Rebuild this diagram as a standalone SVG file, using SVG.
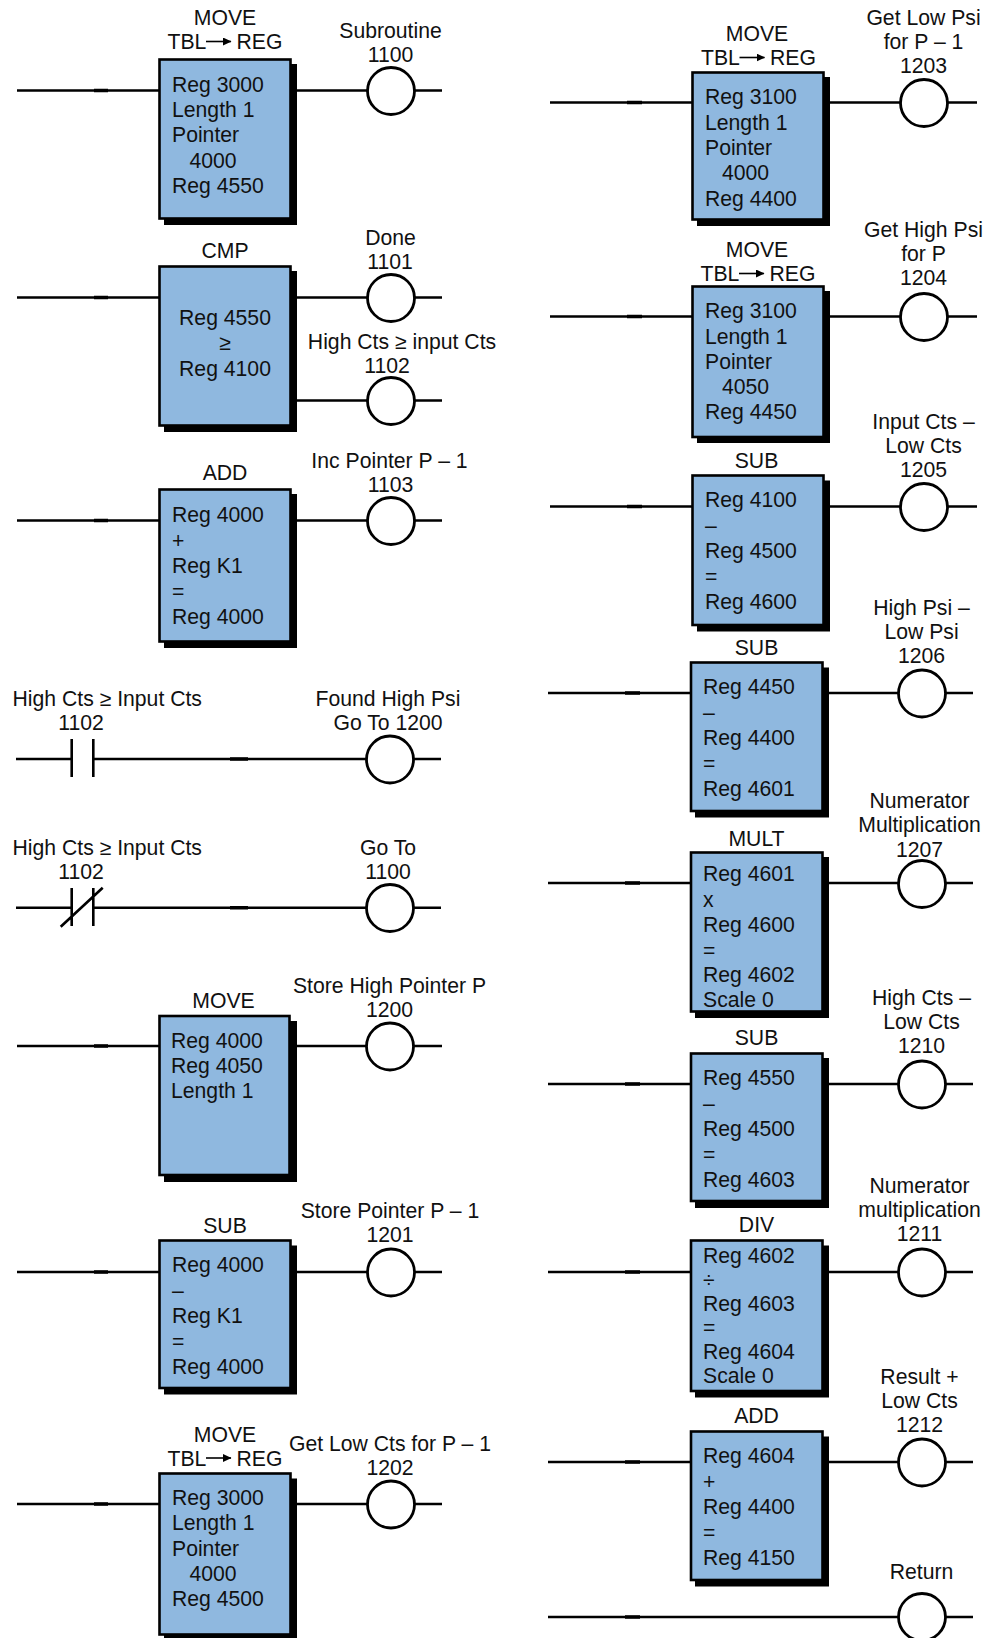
<svg xmlns="http://www.w3.org/2000/svg" width="995" height="1638" viewBox="0 0 995 1638">
<style>
text{font-family:"Liberation Sans",Arial,sans-serif;font-size:21.2px;fill:#111}
.m{text-anchor:middle}
.s{fill:#000}
.b{fill:#8fb8df;stroke:#000;stroke-width:2.6}
.c{fill:#fff;stroke:#000;stroke-width:2.8}
.w{fill:none;stroke:#000;stroke-width:2.6}
.k{fill:none;stroke:#000;stroke-width:3.4}
.a{fill:none;stroke:#000;stroke-width:1.6;marker-end:url(#ah)}
</style>
<defs><marker id="ah" markerWidth="9" markerHeight="8" refX="8" refY="4" orient="auto" markerUnits="userSpaceOnUse"><path d="M0 0L8.500 4L0 8Z" fill="#000"/></marker></defs>
<rect width="995" height="1638" fill="#fff"/>
<g id="connectors">
<path class="w" d="M17 90.500H160M296 90.500H367M415 90.500H442"/>
<path class="w" d="M17 297.500H160M296 297.500H367M415 297.500H442"/>
<path class="w" d="M296 400.500H367M415 400.500H442"/>
<path class="w" d="M17 520.500H160M296 520.500H367M415 520.500H442"/>
<path class="w" d="M16 759H72M93 759H366M414 759H441M71.700 739V777M93.300 739V777"/>
<path class="w" d="M16 907.700H72M93 907.700H366M414 907.700H441M71.700 888V926M93.300 888V926M60.700 926.700L102.700 887.700"/>
<path class="w" d="M17 1046H160M296 1046H366M414 1046H442"/>
<path class="w" d="M17 1272H160M296 1272H367M415 1272H442"/>
<path class="w" d="M17 1504H160M296 1504H367M415 1504H442"/>
<path class="w" d="M550 102.500H693M829 102.500H900M948 102.500H977"/>
<path class="w" d="M550 316.500H693M829 316.500H900M948 316.500H977"/>
<path class="w" d="M550 506.500H693M829 506.500H900M948 506.500H977"/>
<path class="w" d="M548 693H691M828 693H898M946 693H973"/>
<path class="w" d="M548 883H691M828 883H898M946 883H973"/>
<path class="w" d="M548 1084H691M828 1084H898M946 1084H973"/>
<path class="w" d="M548 1272H691M828 1272H898M946 1272H973"/>
<path class="w" d="M548 1462H691M828 1462H898M946 1462H973"/>
<path class="w" d="M548 1617H898M946 1617H973"/>
<path class="k" d="M94 90.500H108M94 297.500H108M94 520.500H108M230 759H248M230 907.700H248M94 1046H108M94 1272H108M94 1504H108M627 102.500H642M627 316.500H642M627 506.500H642M625 693H640M625 883H640M625 1084H640M625 1272H640M625 1462H640M625 1617H640"/>
</g>
<g id="n1">
<text class="m" x="225" y="25">MOVE</text>
<text x="167.500" y="49">TBL</text><path class="a" d="M206 41.500H231"/><text x="236.500" y="49">REG</text>
<rect class="s" x="164" y="64" width="133" height="161"/><rect class="b" x="159.500" y="59.500" width="131" height="159"/>
<text x="172" y="92">Reg 3000</text><text x="172" y="117">Length 1</text><text x="172" y="142">Pointer</text><text x="189.500" y="168">4000</text><text x="172" y="193">Reg 4550</text>
</g>
<g id="c1100"><text class="m" x="390.500" y="38">Subroutine</text><text class="m" x="390.500" y="62">1100</text><circle class="c" cx="391" cy="91" r="23.500"/></g>
<g id="n2">
<text class="m" x="225" y="258">CMP</text>
<rect class="s" x="164" y="271" width="133" height="161"/><rect class="b" x="159.500" y="266.500" width="131" height="159"/>
<text class="m" x="225" y="325">Reg 4550</text><text class="m" x="225" y="350">≥</text><text class="m" x="225" y="376">Reg 4100</text>
</g>
<g id="c1101"><text class="m" x="390.500" y="245">Done</text><text class="m" x="390" y="269">1101</text><circle class="c" cx="391" cy="298" r="23.500"/></g>
<g id="c1102"><text class="m" x="402" y="349">High Cts ≥ input Cts</text><text class="m" x="387" y="373">1102</text><circle class="c" cx="391" cy="401" r="23.500"/></g>
<g id="n3">
<text class="m" x="225" y="480">ADD</text>
<rect class="s" x="164" y="494" width="133" height="154"/><rect class="b" x="159.500" y="489.500" width="131" height="152"/>
<text x="172" y="522">Reg 4000</text><text x="172" y="547.500">+</text><text x="172" y="573">Reg K1</text><text x="172" y="598.500">=</text><text x="172" y="624">Reg 4000</text>
</g>
<g id="c1103"><text class="m" x="389.500" y="467.500">Inc Pointer P – 1</text><text class="m" x="390.500" y="491.500">1103</text><circle class="c" cx="391" cy="521" r="23.500"/></g>
<g id="n4">
<text x="12.500" y="706">High Cts ≥ Input Cts</text><text class="m" x="81" y="730">1102</text>
</g>
<g id="c1200a"><text class="m" x="388" y="706">Found High Psi</text><text class="m" x="388" y="730">Go To 1200</text><circle class="c" cx="390" cy="759.500" r="23.500"/></g>
<g id="n5">
<text x="12.500" y="855">High Cts ≥ Input Cts</text><text class="m" x="81" y="879">1102</text>
</g>
<g id="c1100b"><text class="m" x="388" y="855">Go To</text><text class="m" x="388" y="879">1100</text><circle class="c" cx="390" cy="908" r="23.500"/></g>
<g id="n6">
<text class="m" x="223.500" y="1007.500">MOVE</text>
<rect class="s" x="164" y="1021" width="133" height="161"/><rect class="b" x="159.500" y="1016" width="130" height="159"/>
<text x="171" y="1047.500">Reg 4000</text><text x="171" y="1073">Reg 4050</text><text x="171" y="1098">Length 1</text>
</g>
<g id="c1200"><text class="m" x="389.500" y="993">Store High Pointer P</text><text class="m" x="389.500" y="1017">1200</text><circle class="c" cx="390" cy="1046.500" r="23.500"/></g>
<g id="n7">
<text class="m" x="225" y="1232.500">SUB</text>
<rect class="s" x="164" y="1245.500" width="133" height="149"/><rect class="b" x="159.500" y="1240.500" width="131" height="147.500"/>
<text x="172" y="1272">Reg 4000</text><text x="172" y="1298">–</text><text x="172" y="1323">Reg K1</text><text x="172" y="1348.500">=</text><text x="172" y="1373.500">Reg 4000</text>
</g>
<g id="c1201"><text class="m" x="390" y="1218">Store Pointer P – 1</text><text class="m" x="390" y="1242">1201</text><circle class="c" cx="391" cy="1272.500" r="23.500"/></g>
<g id="n8">
<text class="m" x="225" y="1441.500">MOVE</text>
<text x="167.500" y="1465.500">TBL</text><path class="a" d="M206 1458H231"/><text x="236.500" y="1465.500">REG</text>
<rect class="s" x="164" y="1478.500" width="133" height="163"/><rect class="b" x="159.500" y="1473.500" width="131" height="161"/>
<text x="172" y="1505">Reg 3000</text><text x="172" y="1530">Length 1</text><text x="172" y="1556">Pointer</text><text x="189.500" y="1581">4000</text><text x="172" y="1606">Reg 4500</text>
</g>
<g id="c1202"><text class="m" x="390" y="1451">Get Low Cts for P – 1</text><text class="m" x="390" y="1474.500">1202</text><circle class="c" cx="391" cy="1504.500" r="23.500"/></g>
<g id="r1">
<text class="m" x="757" y="41">MOVE</text>
<text x="701" y="65">TBL</text><path class="a" d="M739.500 57.500H764.500"/><text x="770" y="65">REG</text>
<rect class="s" x="697" y="77" width="133" height="149"/><rect class="b" x="692.500" y="72.500" width="131" height="147"/>
<text x="705" y="104">Reg 3100</text><text x="705" y="129.500">Length 1</text><text x="705" y="155">Pointer</text><text x="722" y="180">4000</text><text x="705" y="206">Reg 4400</text>
</g>
<g id="c1203"><text class="m" x="923.500" y="25">Get Low Psi</text><text class="m" x="923.500" y="49">for P – 1</text><text class="m" x="923.500" y="72.500">1203</text><circle class="c" cx="924" cy="103" r="23.500"/></g>
<g id="r2">
<text class="m" x="757" y="257">MOVE</text>
<text x="700.500" y="281">TBL</text><path class="a" d="M739 273.500H764"/><text x="769.500" y="281">REG</text>
<rect class="s" x="697" y="291" width="133" height="152"/><rect class="b" x="692.500" y="286.500" width="131" height="150.500"/>
<text x="705" y="318">Reg 3100</text><text x="705" y="343.500">Length 1</text><text x="705" y="369">Pointer</text><text x="722" y="394">4050</text><text x="705" y="419">Reg 4450</text>
</g>
<g id="c1204"><text class="m" x="923.500" y="236.500">Get High Psi</text><text class="m" x="923.500" y="260.500">for P</text><text class="m" x="923.500" y="284.500">1204</text><circle class="c" cx="924" cy="317" r="23.500"/></g>
<g id="r3">
<text class="m" x="756.500" y="468">SUB</text>
<rect class="s" x="697" y="480.500" width="133" height="151"/><rect class="b" x="692.500" y="475.500" width="131" height="149.500"/>
<text x="705" y="507">Reg 4100</text><text x="705" y="532.500">–</text><text x="705" y="558">Reg 4500</text><text x="705" y="584">=</text><text x="705" y="609">Reg 4600</text>
</g>
<g id="c1205"><text class="m" x="923.500" y="428.500">Input Cts –</text><text class="m" x="923.500" y="452.500">Low Cts</text><text class="m" x="923.500" y="476.500">1205</text><circle class="c" cx="924" cy="507" r="23.500"/></g>
<g id="r4">
<text class="m" x="756.500" y="654.500">SUB</text>
<rect class="s" x="695" y="667.500" width="134" height="150"/><rect class="b" x="691" y="662.500" width="131.500" height="148.500"/>
<text x="703" y="694">Reg 4450</text><text x="703" y="719.500">–</text><text x="703" y="745">Reg 4400</text><text x="703" y="771">=</text><text x="703" y="796">Reg 4601</text>
</g>
<g id="c1206"><text class="m" x="921.500" y="614.500">High Psi –</text><text class="m" x="921.500" y="638.500">Low Psi</text><text class="m" x="921.500" y="663">1206</text><circle class="c" cx="922" cy="693.500" r="23.500"/></g>
<g id="r5">
<text class="m" x="756.500" y="846">MULT</text>
<rect class="s" x="695" y="857" width="134" height="161"/><rect class="b" x="691" y="852.500" width="131.500" height="159"/>
<text x="703" y="881">Reg 4601</text><text x="703" y="906.500">x</text><text x="703" y="931.500">Reg 4600</text><text x="703" y="957.500">=</text><text x="703" y="982">Reg 4602</text><text x="703" y="1007">Scale 0</text>
</g>
<g id="c1207"><text class="m" x="919.500" y="808">Numerator</text><text class="m" x="919.500" y="832">Multiplication</text><text class="m" x="919.500" y="856.500">1207</text><circle class="c" cx="922" cy="884" r="23.500"/></g>
<g id="r6">
<text class="m" x="756.500" y="1045">SUB</text>
<rect class="s" x="695" y="1058" width="134" height="150"/><rect class="b" x="691" y="1053.500" width="131.500" height="147.500"/>
<text x="703" y="1085">Reg 4550</text><text x="703" y="1110.500">–</text><text x="703" y="1136">Reg 4500</text><text x="703" y="1161.500">=</text><text x="703" y="1187">Reg 4603</text>
</g>
<g id="c1210"><text class="m" x="921.500" y="1005">High Cts –</text><text class="m" x="921.500" y="1029">Low Cts</text><text class="m" x="921.500" y="1053">1210</text><circle class="c" cx="922" cy="1084.500" r="23.500"/></g>
<g id="r7">
<text class="m" x="756.500" y="1232">DIV</text>
<rect class="s" x="695" y="1245.500" width="134" height="152"/><rect class="b" x="691" y="1240.500" width="131.500" height="150.500"/>
<text x="703" y="1262.500">Reg 4602</text><text x="703" y="1287">÷</text><text x="703" y="1310.500">Reg 4603</text><text x="703" y="1334.500">=</text><text x="703" y="1359">Reg 4604</text><text x="703" y="1383">Scale 0</text>
</g>
<g id="c1211"><text class="m" x="919.500" y="1192.500">Numerator</text><text class="m" x="919.500" y="1216.500">multiplication</text><text class="m" x="919.500" y="1240.500">1211</text><circle class="c" cx="922" cy="1272.500" r="23.500"/></g>
<g id="r8">
<text class="m" x="756.500" y="1423">ADD</text>
<rect class="s" x="695" y="1436.500" width="134" height="150"/><rect class="b" x="691" y="1431.500" width="131.500" height="148.500"/>
<text x="703" y="1463">Reg 4604</text><text x="703" y="1489">+</text><text x="703" y="1514">Reg 4400</text><text x="703" y="1540">=</text><text x="703" y="1565">Reg 4150</text>
</g>
<g id="c1212"><text class="m" x="919.500" y="1383.500">Result +</text><text class="m" x="919.500" y="1407.500">Low Cts</text><text class="m" x="919.500" y="1431.500">1212</text><circle class="c" cx="922" cy="1462.500" r="23.500"/></g>
<g id="c-return"><text class="m" x="921.500" y="1578.500">Return</text><circle class="c" cx="922" cy="1617" r="23.500"/></g>
</svg>
